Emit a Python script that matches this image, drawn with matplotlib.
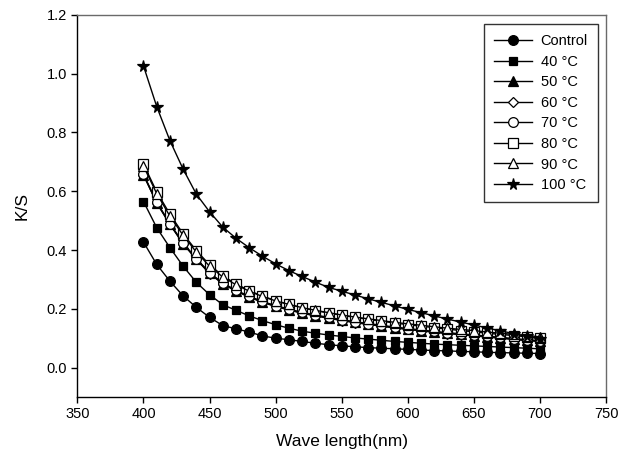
import matplotlib
matplotlib.use("Agg")
import matplotlib.pyplot as plt
import numpy as np

plt.rcParams['font.family'] = ['Liberation Sans', 'DejaVu Sans']

wavelength = list(range(400, 701, 10))

control = [0.427, 0.351, 0.294, 0.244, 0.205, 0.171, 0.143, 0.132, 0.121, 0.108, 0.100,
           0.095, 0.089, 0.083, 0.078, 0.074, 0.071, 0.068, 0.066, 0.064, 0.062, 0.060,
           0.058, 0.057, 0.055, 0.054, 0.052, 0.051, 0.050, 0.049, 0.048]
t40 = [0.565, 0.476, 0.408, 0.345, 0.290, 0.248, 0.214, 0.195, 0.176, 0.160, 0.146,
       0.134, 0.124, 0.117, 0.111, 0.106, 0.101, 0.097, 0.093, 0.089, 0.086, 0.083,
       0.080, 0.078, 0.076, 0.074, 0.072, 0.070, 0.068, 0.066, 0.064]
t50 = [0.656, 0.561, 0.488, 0.422, 0.369, 0.321, 0.286, 0.261, 0.241, 0.223, 0.209,
       0.197, 0.186, 0.177, 0.169, 0.161, 0.154, 0.148, 0.142, 0.136, 0.131, 0.126,
       0.121, 0.117, 0.113, 0.109, 0.105, 0.101, 0.097, 0.093, 0.090]
t60 = [0.655, 0.560, 0.487, 0.421, 0.368, 0.320, 0.285, 0.260, 0.240, 0.222, 0.208,
       0.196, 0.185, 0.176, 0.168, 0.160, 0.153, 0.147, 0.141, 0.135, 0.130, 0.125,
       0.120, 0.116, 0.112, 0.108, 0.104, 0.100, 0.096, 0.092, 0.089]
t70 = [0.658, 0.563, 0.490, 0.424, 0.371, 0.323, 0.288, 0.263, 0.243, 0.225, 0.211,
       0.199, 0.188, 0.179, 0.171, 0.163, 0.156, 0.150, 0.144, 0.138, 0.133, 0.128,
       0.123, 0.119, 0.115, 0.111, 0.107, 0.103, 0.099, 0.095, 0.092]
t80 = [0.692, 0.598, 0.522, 0.455, 0.398, 0.350, 0.312, 0.285, 0.262, 0.243, 0.228,
       0.215, 0.204, 0.194, 0.186, 0.178, 0.171, 0.164, 0.158, 0.152, 0.146, 0.141,
       0.136, 0.131, 0.126, 0.122, 0.117, 0.113, 0.109, 0.105, 0.101]
t90 = [0.685, 0.592, 0.515, 0.450, 0.393, 0.345, 0.308, 0.282, 0.260, 0.242, 0.227,
       0.215, 0.204, 0.195, 0.187, 0.179, 0.172, 0.166, 0.160, 0.154, 0.149, 0.144,
       0.139, 0.134, 0.130, 0.126, 0.121, 0.117, 0.113, 0.109, 0.105]
t100 = [1.026, 0.888, 0.772, 0.675, 0.590, 0.530, 0.478, 0.440, 0.408, 0.379, 0.353,
        0.330, 0.310, 0.291, 0.273, 0.260, 0.247, 0.234, 0.222, 0.210, 0.198, 0.187,
        0.176, 0.165, 0.155, 0.145, 0.135, 0.125, 0.116, 0.106, 0.097]

labels = ["Control", "40 °C", "50 °C", "60 °C", "70 °C", "80 °C", "90 °C", "100 °C"]
series = [control, t40, t50, t60, t70, t80, t90, t100]
markers = ['o', 's', '^', 'D', 'o', 's', '^', '*']
filled = [True, True, True, False, False, False, False, True]
msizes = [7, 6.3, 6.5, 5.2, 7, 6.5, 7, 8.5]

fig = plt.figure(figsize=(6.31, 4.63), dpi=100)
ax = fig.add_axes([0.1227, 0.1425, 0.8377, 0.8255])

for ys, lab, m, f, ms in zip(series, labels, markers, filled, msizes):
    ax.plot(wavelength, ys, color='black', lw=1.0, marker=m, markersize=ms,
            markerfacecolor='black' if f else 'white', markeredgecolor='black',
            markeredgewidth=0.9, label=lab)

ax.set_xlim(350, 750)
ax.set_ylim(-0.1, 1.2)
ax.set_xticks(np.arange(350, 751, 50))
ax.set_yticks(np.arange(0, 1.21, 0.2))
ax.set_yticklabels([f"{v:.1f}" for v in np.arange(0, 1.21, 0.2)])
ax.tick_params(direction='out', length=4, width=1, labelsize=10.5)
ax.set_xlabel("Wave length(nm)", fontsize=12.5, labelpad=9)
ax.set_ylabel("K/S", fontsize=12.5, labelpad=12)
for s in ['top', 'right']:
    ax.spines[s].set_color('#6a6a6a')
for s in ax.spines.values():
    s.set_linewidth(1.0)

leg = ax.legend(loc='upper right', bbox_to_anchor=(0.985, 0.976), fontsize=10.5,
                frameon=True, fancybox=False, edgecolor='black', handlelength=2.6,
                labelspacing=0.45, borderpad=0.7, handletextpad=0.6, borderaxespad=0.0)
leg.get_frame().set_linewidth(1.0)

fig.savefig("out.png", dpi=100)
